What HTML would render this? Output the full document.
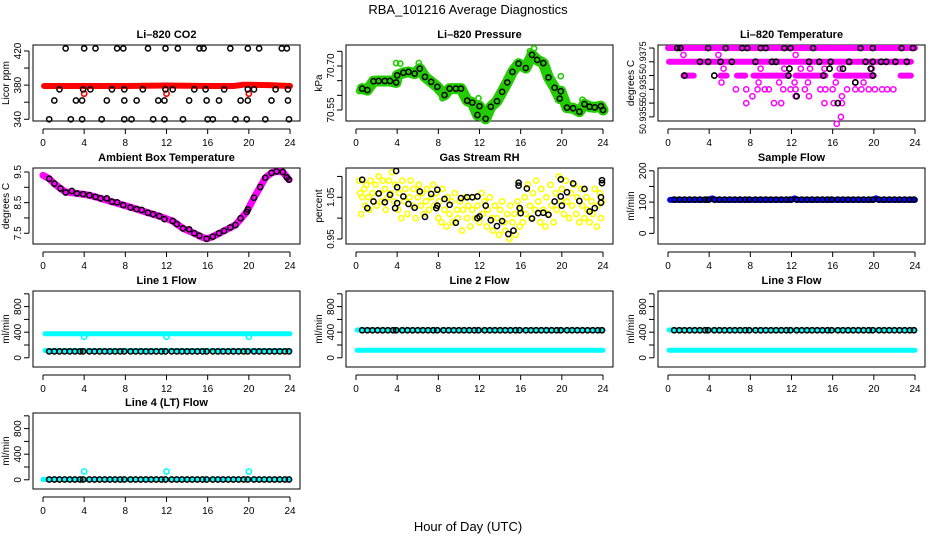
<!DOCTYPE html>
<html><head><meta charset="utf-8">
<style>
html,body{margin:0;padding:0;background:#fff;}
svg{display:block;font-family:"Liberation Sans",Arial,sans-serif;}
</style></head>
<body>
<svg id="chart" width="936" height="540" viewBox="0 0 936 540" xmlns="http://www.w3.org/2000/svg">
<text x="468" y="14" text-anchor="middle" font-size="13">RBA_101216  Average Diagnostics</text>
<text x="468" y="531" text-anchor="middle" font-size="13">Hour of Day (UTC)</text>
</svg>
<script>
// ---------- data ----------
const xTicks = [0,4,8,12,16,20,24];
const flowHours = [0.6,1.1,1.6,2.1,2.6,3.1,3.6,3.9,4.5,5.0,5.5,6.0,6.5,7.0,7.5,7.9,8.5,9.0,9.5,10.0,10.5,11.0,11.5,11.9,12.5,13.0,13.5,14.0,14.5,15.0,15.5,15.9,16.5,17.0,17.5,18.0,18.5,19.0,19.5,19.9,20.5,21.0,21.5,22.0,22.5,23.0,23.5,23.9];

// CO2
const co2BandH = [0.1,4,8,12,16,18.5,19.5,22,24];
const co2BandV = [379,379,379,379.5,379,379,380.5,380,379];
const co2RedOutH = [4.0,12.0,20.0];
const co2RedOutV = [370,370,370];
const co2BlackH = [2.2,4.0,5.1,7.2,7.8,10.2,11.9,13.1,15.2,15.6,18.2,19.9,21.0,23.2,23.7,
 1.6,3.9,4.6,6.7,7.9,9.7,11.9,12.6,14.7,15.8,17.6,19.9,20.5,22.6,23.8,
 1.1,3.2,3.8,6.2,7.9,9.1,11.2,11.8,14.2,15.9,17.1,19.2,19.9,22.2,23.8,
 0.6,2.7,3.8,5.7,7.9,8.6,10.7,11.8,13.6,16.0,16.5,18.7,19.8,21.6,23.9];
const co2BlackV = [423,423,423,423,423,423,423,423,423,423,423,423,423,423,423,
 375,375,375,375,375,375,375,375,375,375,375,375,375,375,375,
 362,362,362,362,362,362,362,362,362,362,362,362,362,362,362,
 340,340,340,340,340,340,340,340,340,340,340,340,340,340,340];
const co2Ticks = [340,360,380,400,420];
const co2Labels = ["340","","380","","420"];

// Pressure
const presH = [0.6,1.1,1.7,2.2,2.8,3.3,3.9,4.0,4.6,5.1,5.7,6.2,6.7,7.3,7.9,8.6,9.1,9.7,10.2,10.8,11.3,11.8,12.0,12.6,13.1,13.7,14.2,14.7,15.2,15.8,16.5,17.1,17.6,18.2,18.7,19.3,19.8,19.9,20.5,21.1,21.7,22.2,22.7,23.2,23.8,24.0];
const presV = [70.623,70.618,70.648,70.649,70.649,70.649,70.644,70.668,70.677,70.680,70.674,70.691,70.663,70.646,70.629,70.601,70.623,70.623,70.623,70.582,70.575,70.533,70.563,70.520,70.561,70.580,70.612,70.644,70.680,70.708,70.693,70.738,70.721,70.710,70.661,70.626,70.589,70.614,70.558,70.556,70.544,70.570,70.561,70.559,70.563,70.550];
const presGreenH = [0.3,3.9,4.3,6.1,8.4,11.9,16.9,17.3,19.9,22.0];
const presGreenV = [70.615,70.71,70.708,70.71,70.59,70.59,70.75,70.76,70.665,70.585];
const presTicks = [70.55,70.60,70.65,70.70,70.75];
const presLabels = ["70.55","","","70.70",""];

// Li-820 temperature
const tempTicks = [50.9375,50.9370,50.9365,50.9360,50.9355,50.9350];
const tempLabels = ["","","","","",""];
const tempLabelText = ["50.9375","50.935","50.9355"];
const tempLabelAt = [50.93715,50.93603,50.93497];
const tempRunStart = [0.0,0.1,1.5,5.1,6.7,8.3,12.4,16.3,22.6];
const tempRunEnd   = [24.0,23.6,2.5,5.7,7.5,11.6,15.3,20.0,23.6];
const tempRunV     = [50.9375,50.9370,50.9365,50.9365,50.9365,50.9365,50.9365,50.9365,50.9365];
const tempMagH = [1.5,4.9,12.4, 5.4,9.0,11.3,12.9,13.8,15.2,16.7,19.8, 5.2,8.8,10.8,12.3,13.6,16.3,18.2,19.0,
 6.6,7.6,8.7,9.4,9.8,11.2,11.9,12.4,13.3,14.8,15.3,16.0,17.4,18.2,18.8,19.5,20.1,20.8,21.3,21.9,
 8.2,12.4,13.7,16.9, 7.6,10.3,11.0,15.2,16.1,16.9, 16.8,16.4];
const tempMagV = [50.93725,50.93725,50.93725, 50.93675,50.93675,50.93675,50.93675,50.93675,50.93675,50.93675,50.93675,
 50.93625,50.93625,50.93625,50.93625,50.93625,50.93625,50.93625,50.93625,
 50.9360,50.9360,50.9360,50.9360,50.9360,50.9360,50.9360,50.9360,50.9360,50.9360,50.9360,50.9360,50.9360,50.9360,50.9360,50.9360,50.9360,50.9360,50.9360,50.9360,
 50.93575,50.93575,50.93575,50.93575, 50.9355,50.9355,50.9355,50.9355,50.9355,50.9355, 50.9350,50.93475];
const tempBlackH = [0.9,1.2,3.9,5.6,7.2,7.7,9.0,9.5,11.3,11.9,14.1,18.7,19.9,22.7,23.8,
 3.1,3.9,5.1,6.2,8.5,10.1,10.5,13.7,14.7,15.8,17.6,19.2,19.9,20.7,21.2,22.1,23.2,
 11.8,15.7,17.0,19.7, 1.6,4.5,11.7,15.1,19.9, 18.2,12.5,16.5];
const tempBlackV = [50.9375,50.9375,50.9375,50.9375,50.9375,50.9375,50.9375,50.9375,50.9375,50.9375,50.9375,50.9375,50.9375,50.9375,50.9375,
 50.9370,50.9370,50.9370,50.9370,50.9370,50.9370,50.9370,50.9370,50.9370,50.9370,50.9370,50.9370,50.9370,50.9370,50.9370,50.9370,50.9370,
 50.93675,50.93675,50.93675,50.93675, 50.9365,50.9365,50.9365,50.9365,50.9365, 50.93625,50.93575,50.9355];

// Ambient
const ambH = [0.6,1.1,1.7,2.2,2.8,3.3,3.9,4.5,5.1,5.6,6.2,6.7,7.2,7.8,8.5,9.1,9.6,10.2,10.7,11.3,11.8,12.6,13.0,13.6,14.2,14.7,15.2,15.9,16.5,17.1,17.6,18.2,18.7,19.2,19.8,19.9,20.5,21.1,21.6,22.2,22.7,23.3,23.7,23.9];
const ambV = [9.28,9.12,8.96,8.83,8.88,8.80,8.78,8.74,8.69,8.64,8.64,8.53,8.51,8.42,8.34,8.29,8.26,8.17,8.12,8.06,7.96,7.90,7.80,7.66,7.63,7.50,7.42,7.32,7.39,7.50,7.58,7.69,7.77,7.99,8.20,8.28,8.66,9.01,9.31,9.47,9.52,9.50,9.32,9.25];
const ambBandH = [0.0,0.6,1.1,1.7,2.2,3.3,4.5,5.6,6.7,7.8,9.1,10.2,11.3,12.6,13.6,14.7,15.4,15.9,16.5,17.6,18.7,19.8,20.5,21.1,21.6,22.2,22.7,23.3,23.9];
const ambBandV = [9.39,9.28,9.12,8.96,8.85,8.80,8.74,8.64,8.53,8.42,8.29,8.17,8.06,7.90,7.66,7.50,7.38,7.32,7.39,7.58,7.77,8.20,8.66,9.01,9.31,9.47,9.52,9.50,9.25];
const ambTicks = [7.5,8.0,8.5,9.0,9.5];
const ambLabels = ["7.5","","8.5","","9.5"];

// Gas stream RH
const rhBlackH = [0.6,1.1,1.7,2.2,2.8,3.3,3.8,3.9,4.0,4.0,4.6,5.1,5.7,6.2,6.7,7.3,7.8,7.9,7.9,8.6,9.1,9.7,10.2,10.8,11.3,11.8,11.8,12.0,12.6,13.1,13.7,14.2,14.8,15.3,15.8,15.8,15.9,16.0,16.6,17.1,17.7,18.2,18.7,19.3,19.9,19.9,20.0,20.5,21.1,21.7,22.2,22.7,23.2,23.8,23.8,23.9,23.9];
const rhBlackV = [1.092,1.024,1.040,1.059,1.038,1.056,1.024,1.113,1.074,1.036,1.052,1.034,1.025,1.064,1.003,1.058,1.024,1.068,1.030,1.046,1.032,0.989,1.048,1.050,1.050,1.052,1.000,1.004,1.030,0.995,0.981,0.993,0.962,0.970,1.085,1.078,1.024,1.012,1.071,0.999,1.012,1.013,1.008,1.040,1.093,1.052,1.030,1.062,1.083,1.041,1.070,1.016,1.024,1.037,1.050,1.084,1.091];
const rhYellowH = [0.3,0.4,0.5,0.6,0.8,0.9,1.0,1.2,1.3,1.4,1.6,1.7,1.9,2.0,2.2,2.3,2.5,2.6,2.8,2.9,3.1,3.2,3.4,3.5,3.7,3.8,4.1,4.2,4.4,4.5,4.7,4.8,5.0,5.2,5.3,5.5,5.6,5.8,6.0,6.1,6.3,6.4,6.6,6.8,6.9,7.1,7.3,7.5,7.6,7.8,8.0,8.1,8.3,8.4,8.6,8.8,8.9,9.1,9.3,9.4,9.6,9.8,9.9,10.1,10.3,10.4,10.6,10.8,10.9,11.1,11.3,11.4,11.6,11.8,12.0,12.2,12.3,12.5,12.7,12.8,13.0,13.2,13.3,13.5,13.7,13.9,14.0,14.2,14.4,14.5,14.7,14.9,15.0,15.2,15.4,15.5,15.7,15.9,16.0,16.2,16.4,16.5,16.7,16.9,17.0,17.2,17.4,17.5,17.7,17.9,18.0,18.2,18.4,18.5,18.7,18.9,19.0,19.2,19.4,19.5,19.7,19.9,20.0,20.2,20.4,20.5,20.7,20.9,21.0,21.2,21.4,21.5,21.7,21.9,22.0,22.2,22.4,22.5,22.7,22.9,23.0,23.2,23.4,23.5,23.7,23.8,23.9];
const rhYellowV = [1.09,1.06,1.01,1.05,1.07,1.03,1.08,1.05,1.02,1.09,1.06,1.04,1.08,1.03,1.10,1.06,1.04,1.09,1.07,1.02,1.05,1.09,1.06,1.11,1.04,1.08,1.02,1.06,1.00,1.09,1.04,1.07,1.01,1.05,1.09,1.03,1.07,1.00,1.05,1.08,1.03,1.06,1.01,1.04,1.07,1.02,1.05,1.08,1.03,1.06,1.00,1.04,0.99,1.07,1.02,0.98,1.05,1.01,1.04,0.99,1.06,1.02,1.00,1.04,0.97,1.02,1.05,1.00,1.03,0.98,1.02,1.05,1.00,1.03,0.99,1.06,1.01,1.04,0.98,1.02,1.05,1.00,0.97,1.03,1.00,0.96,1.02,1.04,0.99,0.97,1.01,0.95,1.03,0.99,1.01,0.96,1.04,0.98,1.02,0.99,1.05,1.01,1.08,1.03,1.00,1.06,1.02,1.09,1.04,0.99,1.07,1.02,0.98,1.05,1.01,1.08,1.03,0.99,1.06,1.02,1.10,1.04,1.07,1.01,1.09,1.04,1.00,1.06,1.03,1.08,1.01,1.05,0.99,1.07,1.03,1.00,1.05,1.02,0.99,1.04,1.01,1.07,0.98,1.03,1.06,1.00,1.04];
const rhTicks = [0.95,1.00,1.05,1.10];
const rhLabels = ["0.95","","1.05",""];

// Sample flow
const sampleBandH = [0.2,4.0,4.3,4.6,12.0,12.3,12.6,20.0,20.2,20.5,24.0];
const sampleBandV = [107,107,112,107,107,112,107,107,112,107,107];
const sampleBlackV = 108;
const sampleTicks = [0,50,100,150,200];
const sampleLabels = ["0","","100","","200"];

// Line flows
const flowTicks = [0,200,400,600,800,1000];
const flowLabels = ["0","","400","","800",""];
const line1Black = 100, line1CyanHi = 375, line1CyanLo = 112;
const line1OutH = [4.0,12.0,20.0], line1OutV = [330,330,330];
const line2Black = 430, line2CyanHi = 435, line2CyanLo = 118;
const line3Black = 430, line3CyanHi = 435, line3CyanLo = 118;
const line4Black = 5, line4Cyan = 5;
const line4OutH = [4.0,12.0,20.0], line4OutV = [130,130,130];

// ---------- drawing ----------
const svg = document.getElementById('chart');
const NS = 'http://www.w3.org/2000/svg';
const colLeft = [33,346,658], rowTop = [45,168,291,413], W = 267, H = 76;
function mk(tag, attrs, parent){const e=document.createElementNS(NS,tag);for(const k in attrs)e.setAttribute(k,attrs[k]);(parent||svg).appendChild(e);return e;}

function panel(name, title, ytitle, col, row, ymin, ymax, ticks, labels){
  const g = mk('g',{});
  
  
  const L=colLeft[col], T=rowTop[row];
  const xs = h => L + 10 + h*(247/24);
  const ys = v => T + H - (v-ymin)/(ymax-ymin)*H;
  const box = mk('rect',{x:L,y:T,width:W,height:H,fill:'none',stroke:'#000','stroke-width':1},g);
  
  
  const t = mk('text',{x:L+W/2,y:T-7,'text-anchor':'middle','font-size':11,'font-weight':'bold'},g);
  t.textContent = title;
  
  
  const yt = mk('text',{x:0,y:0,'text-anchor':'middle','font-size':10,transform:`translate(${L-24},${T+H/2}) rotate(-90)`},g);
  yt.textContent = ytitle;
  
  
  mk('line',{x1:xs(0),x2:xs(24),y1:T+H+8,y2:T+H+8,stroke:'#000'},g);
  xTicks.forEach(v=>{
    mk('line',{x1:xs(v),x2:xs(v),y1:T+H+8,y2:T+H+13,stroke:'#000'},g);
    const tx = mk('text',{x:xs(v),y:T+H+25,'text-anchor':'middle','font-size':10},g);
    tx.textContent = v;
    
    
  });
  mk('line',{x1:L-4,x2:L-4,y1:ys(ticks[0]),y2:ys(ticks[ticks.length-1]),stroke:'#000'},g);
  ticks.forEach((v,i)=>{
    mk('line',{x1:L-9,x2:L-4,y1:ys(v),y2:ys(v),stroke:'#000'},g);
    if(labels[i]){
      const ty = mk('text',{x:0,y:0,'text-anchor':'middle','font-size':10,transform:`translate(${L-12},${ys(v)}) rotate(-90)`},g);
      ty.textContent = labels[i];
      
      
    }
  });
  return {g,xs,ys,L,T};
}
function pts(p, H_, V_, color, sw){
  for(let i=0;i<H_.length;i++){
    const c = mk('circle',{cx:p.xs(H_[i]),cy:p.ys(V_[i]),r:2.6,fill:'none',stroke:color,'stroke-width':sw||1.4},p.g);
    
    
  }
}
function band(p, H_, V_, color, w){
  const d = H_.map((h,i)=>p.xs(h)+','+p.ys(V_[i])).join(' ');
  const l = mk('polyline',{points:d,fill:'none',stroke:color,'stroke-width':w,'stroke-linejoin':'round','stroke-linecap':'round'},p.g);
  
  
}
function constPts(p, v, color){ pts(p, flowHours, flowHours.map(()=>v), color, 1.6); }

let p = panel('co2-panel','Li\u2013820 CO2','Licor ppm',0,0,338,427,co2Ticks,co2Labels);
band(p, co2BandH, co2BandV, '#ff0000', 6);
pts(p, co2RedOutH, co2RedOutV, '#ff0000', 1.6);
pts(p, co2BlackH, co2BlackV, '#000', 1.5);

p = panel('pressure-panel','Li\u2013820 Pressure','kPa',1,0,70.5125,70.7716,presTicks,presLabels);
band(p, presH, presV, '#22cc00', 11);
pts(p, presGreenH, presGreenV, '#22cc00', 1.6);
pts(p, presH, presV, '#000', 1.5);

p = panel('temperature-panel','Li\u2013820 Temperature','degrees C',2,0,50.93485,50.93761,tempTicks,tempLabels);
for(let i=0;i<tempLabelText.length;i++){
  const ty = mk('text',{x:0,y:0,'text-anchor':'middle','font-size':9,transform:`translate(${p.L-12},${p.ys(tempLabelAt[i])}) rotate(-90)`},p.g);
  ty.textContent = tempLabelText[i];
  
  
}
for(let i=0;i<tempRunStart.length;i++) band(p,[tempRunStart[i],tempRunEnd[i]],[tempRunV[i],tempRunV[i]],'#ff00ff',6);
pts(p, tempMagH, tempMagV, '#ff00ff', 1.5);
pts(p, tempBlackH, tempBlackV, '#000', 1.6);

p = panel('ambient-panel','Ambient Box Temperature','degrees C',0,1,7.15,9.63,ambTicks,ambLabels);
band(p, ambBandH, ambBandV, '#ff00ff', 7);
pts(p, ambH, ambV, '#000', 1.5);

p = panel('rh-panel','Gas Stream RH','percent',1,1,0.938,1.1202,rhTicks,rhLabels);
pts(p, rhYellowH, rhYellowV, '#ffff00', 1.6);
pts(p, rhBlackH, rhBlackV, '#000', 1.5);

p = panel('sample-flow-panel','Sample Flow','ml/min',2,1,-34,209,sampleTicks,sampleLabels);
band(p, sampleBandH, sampleBandV, '#0000ff', 6);
constPts(p, sampleBlackV, '#000');

p = panel('line1-panel','Line 1 Flow','ml/min',0,2,-144,1044,flowTicks,flowLabels);
band(p,[0.2,24],[line1CyanHi,line1CyanHi],'#00ffff',5);
band(p,[0.2,24],[line1CyanLo,line1CyanLo],'#00ffff',5);
pts(p, line1OutH, line1OutV, '#00ffff', 1.6);
constPts(p, line1Black, '#000');

p = panel('line2-panel','Line 2 Flow','ml/min',1,2,-144,1044,flowTicks,flowLabels);
band(p,[0.1,24],[line2CyanHi,line2CyanHi],'#00ffff',5);
band(p,[0.1,24],[line2CyanLo,line2CyanLo],'#00ffff',5);
constPts(p, line2Black, '#000');

p = panel('line3-panel','Line 3 Flow','ml/min',2,2,-144,1044,flowTicks,flowLabels);
band(p,[0.1,24],[line3CyanHi,line3CyanHi],'#00ffff',5);
band(p,[0.1,24],[line3CyanLo,line3CyanLo],'#00ffff',5);
constPts(p, line3Black, '#000');

p = panel('line4-panel','Line 4 (LT) Flow','ml/min',0,3,-144,1044,flowTicks,flowLabels);
band(p,[0.0,24],[line4Cyan,line4Cyan],'#00ffff',5);
pts(p, line4OutH, line4OutV, '#00ffff', 1.6);
constPts(p, line4Black, '#000');
</script>
</body></html>
